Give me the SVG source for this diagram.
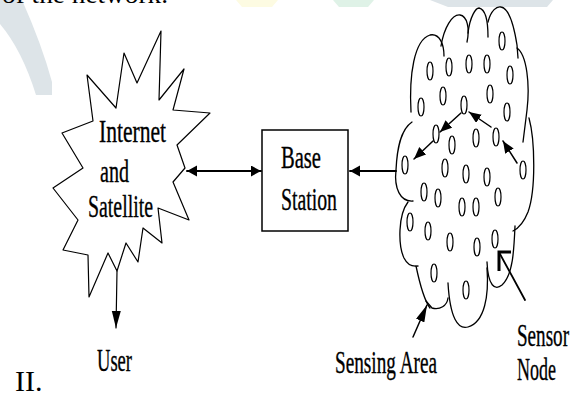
<svg xmlns="http://www.w3.org/2000/svg" width="571" height="393" viewBox="0 0 571 393">
<style>
.lbl{font-family:"Liberation Serif","Times New Roman",serif;font-size:31px;fill:#000;stroke:#000;stroke-width:0.35}
.plain{font-family:"Liberation Serif","Times New Roman",serif;fill:#000}
.ln{fill:none;stroke:#000;stroke-linecap:round;stroke-linejoin:round}
.oval{fill:#fff;stroke:#000;stroke-width:1.2}
</style>
<defs>
<marker id="big" markerUnits="userSpaceOnUse" markerWidth="12" markerHeight="12" refX="10" refY="5.5" orient="auto-start-reverse"><path d="M0,0 L10,5.5 L0,11 z" fill="#000"/></marker>
<marker id="small" markerUnits="userSpaceOnUse" markerWidth="13" markerHeight="11" refX="12" refY="5" orient="auto"><path d="M0,0 L12,5 L0,10 z" fill="#000"/></marker>
<marker id="down" markerUnits="userSpaceOnUse" markerWidth="18" markerHeight="10" refX="17" refY="4.5" orient="auto"><path d="M0,0 L17,4.5 L0,9 z" fill="#000"/></marker>
</defs>
<rect width="571" height="393" fill="#fff"/>
<g id="watermark">
<path d="M0,0 L22,0 Q42,45 52,82 L52,95 L36,95 Q22,50 0,24 Z" fill="#dde4e8"/>
<path d="M236,0 L278,0 L272,7 L242,7 Z" fill="#fdfbe2"/>
<path d="M333,0 L374,0 L368,7 L339,7 Z" fill="#dff2e7"/>
<path d="M430,0 L553,0 L547,7 L448,7 Z" fill="#dde4e8"/>
<text x="2" y="3" class="plain" font-size="26" textLength="166" lengthAdjust="spacingAndGlyphs">of the network.</text>
</g>
<g id="internet">
<polygon class="ln" stroke-width="1.2" points="87,75 116,108 124,53 137,83 161,31 159,100 184,69 173,110 210,113 177,145 185,168 173,182 189,220 158,208 162,243 143,228 138,262 126,243 117,271 108,253 89,297 88,255 63,250 78,220 53,188 83,168 62,133 93,121"/>
<text class="lbl" x="99" y="142" textLength="67" lengthAdjust="spacingAndGlyphs">Internet</text>
<text class="lbl" x="100" y="182" textLength="29" lengthAdjust="spacingAndGlyphs">and</text>
<text class="lbl" x="88" y="217" textLength="65" lengthAdjust="spacingAndGlyphs">Satellite</text>
</g>
<g id="base">
<rect x="262" y="130" width="86" height="101" fill="#fff" stroke="#000" stroke-width="1.5"/>
<text class="lbl" x="281" y="168" textLength="40" lengthAdjust="spacingAndGlyphs">Base</text>
<text class="lbl" x="281" y="210" textLength="56" lengthAdjust="spacingAndGlyphs">Station</text>
</g>
<g id="cloud" class="ln" stroke-width="1.3">
<path d="M413,201 C400,202 394,188 396,170 C397,150 400,130 412,122"/>
<path d="M411,112 C409,75 414,40 430,35 C440,33 444,45 444,56"/>
<path d="M441,46 C444,28 452,14 460,15 C467,16 470,28 467,42"/>
<path d="M468,33 C470,16 476,8 479,8 C484,9 488,16 488,37"/>
<path d="M488,22 C491,10 497,6 501,7 C508,8 513,20 517,45 L518,58"/>
<path d="M517,48 C527,55 530,85 527,110 L523,142"/>
<path d="M529,118 C535,140 536,190 528,212 C524,222 519,228 513,231"/>
<path d="M515,226 C514,250 513,275 502,285 C495,291 488,286 487,262"/>
<path d="M487,268 C489,295 485,322 468,327 C458,330 450,318 448,283"/>
<path d="M448,298 C447,306 440,310 432,308 L426,301"/>
<path d="M430,308 C424,300 420,285 416,266"/>
<path d="M408,202 C398,215 398,245 404,258 C407,264 412,267 418,266"/>
</g>
<g id="sensors">
<ellipse class="oval" cx="502" cy="41" rx="3" ry="9"/>
<ellipse class="oval" cx="430" cy="71" rx="3" ry="9"/>
<ellipse class="oval" cx="449" cy="67" rx="3" ry="9"/>
<ellipse class="oval" cx="469" cy="64" rx="3" ry="9"/>
<ellipse class="oval" cx="487" cy="64" rx="3" ry="9"/>
<ellipse class="oval" cx="510" cy="75" rx="3" ry="9"/>
<ellipse class="oval" cx="443" cy="96" rx="3" ry="9"/>
<ellipse class="oval" cx="490" cy="94" rx="3" ry="9"/>
<ellipse class="oval" cx="421" cy="107" rx="3" ry="9"/>
<ellipse class="oval" cx="464" cy="105" rx="3" ry="9"/>
<ellipse class="oval" cx="507" cy="112" rx="3" ry="9"/>
<ellipse class="oval" cx="436" cy="134" rx="3" ry="9"/>
<ellipse class="oval" cx="452" cy="145" rx="3" ry="9"/>
<ellipse class="oval" cx="476" cy="138" rx="3" ry="9"/>
<ellipse class="oval" cx="496" cy="137" rx="3" ry="9"/>
<ellipse class="oval" cx="405" cy="165" rx="3" ry="9"/>
<ellipse class="oval" cx="445" cy="168" rx="3" ry="9"/>
<ellipse class="oval" cx="466" cy="174" rx="3" ry="9"/>
<ellipse class="oval" cx="487" cy="177" rx="3" ry="9"/>
<ellipse class="oval" cx="523" cy="170" rx="3" ry="9"/>
<ellipse class="oval" cx="424" cy="192" rx="3" ry="9"/>
<ellipse class="oval" cx="438" cy="198" rx="3" ry="9"/>
<ellipse class="oval" cx="498" cy="197" rx="3" ry="9"/>
<ellipse class="oval" cx="462" cy="207" rx="3" ry="9"/>
<ellipse class="oval" cx="476" cy="207" rx="3" ry="9"/>
<ellipse class="oval" cx="410" cy="222" rx="3" ry="9"/>
<ellipse class="oval" cx="428" cy="231" rx="3" ry="9"/>
<ellipse class="oval" cx="450" cy="242" rx="3" ry="9"/>
<ellipse class="oval" cx="477" cy="247" rx="3" ry="9"/>
<ellipse class="oval" cx="495" cy="239" rx="3" ry="9"/>
<ellipse class="oval" cx="434" cy="273" rx="3" ry="9"/>
<ellipse class="oval" cx="466" cy="290" rx="3" ry="9"/>
</g>
<g id="connectors" class="ln">
<line x1="187" y1="171" x2="261" y2="171" stroke-width="2" marker-start="url(#big)" marker-end="url(#big)"/>
<line x1="396" y1="171" x2="350" y2="171" stroke-width="2" marker-end="url(#big)"/>
<line x1="117" y1="271" x2="116" y2="328" stroke-width="1.2" marker-end="url(#down)"/>
<line x1="461" y1="113" x2="440" y2="132" stroke-width="1.5" marker-end="url(#small)"/>
<line x1="433" y1="141" x2="414" y2="159" stroke-width="1.5" marker-end="url(#small)"/>
<line x1="491" y1="127" x2="469" y2="112" stroke-width="1.5" marker-end="url(#small)"/>
<line x1="517" y1="163" x2="503" y2="141" stroke-width="1.5" marker-end="url(#small)"/>
<line x1="413" y1="337" x2="427" y2="305" stroke-width="1.5" marker-end="url(#down)"/>
<line x1="525" y1="300" x2="500" y2="254" stroke-width="1.8"/>
<polyline points="511,252 499,252 499,271" stroke-width="3" stroke-linecap="butt" stroke-linejoin="miter"/>
</g>
<g id="labels">
<text class="lbl" x="97" y="371" textLength="35" lengthAdjust="spacingAndGlyphs">User</text>
<text class="lbl" x="335" y="373" textLength="102" lengthAdjust="spacingAndGlyphs">Sensing Area</text>
<text class="lbl" x="517" y="346" textLength="52" lengthAdjust="spacingAndGlyphs">Sensor</text>
<text class="lbl" x="517" y="380" textLength="39" lengthAdjust="spacingAndGlyphs">Node</text>
<text class="plain" x="15" y="391" font-size="30">II.</text>
</g>
</svg>
